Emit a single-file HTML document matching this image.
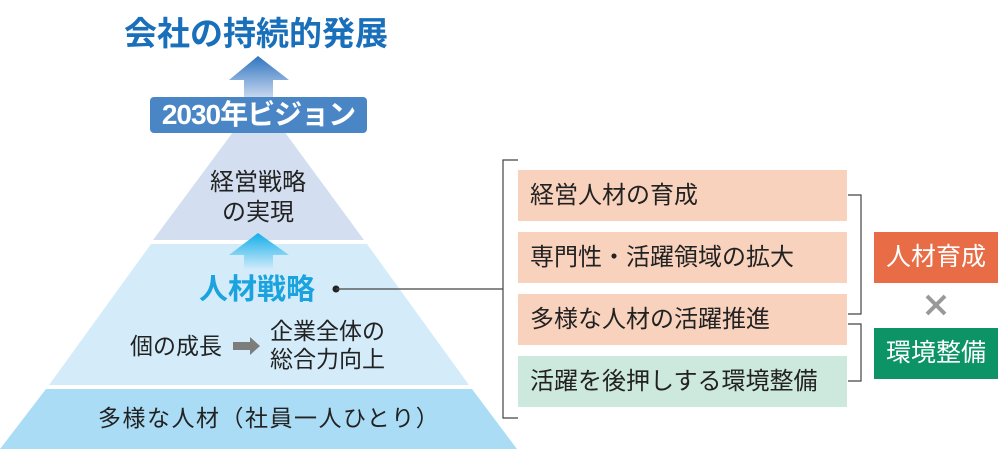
<!DOCTYPE html>
<html><head><meta charset="utf-8"><style>
body{margin:0;width:1000px;height:449px;overflow:hidden;background:#fff;font-family:"Liberation Sans","Noto Sans CJK JP",sans-serif;position:relative}
.t{position:absolute;white-space:nowrap}
.box{position:absolute;left:518px;width:329px;height:51px;line-height:51px;font-size:24px;color:#222;box-sizing:border-box;padding-left:12px}
</style></head><body>
<svg width="1000" height="449" style="position:absolute;left:0;top:0">
<defs>
<linearGradient id="g1" x1="0" y1="0" x2="0" y2="1"><stop offset="0" stop-color="#2f74c0"/><stop offset="1" stop-color="#c9d9ef"/></linearGradient>
<linearGradient id="g2" x1="0" y1="0" x2="0" y2="1"><stop offset="0" stop-color="#13aeea"/><stop offset="1" stop-color="#d4ecfa"/></linearGradient>
</defs>
<polygon points="259,97 364,240 153,240" fill="#d3dff0"/>
<polygon points="151,244 367,244 469,385 49,385" fill="#d4ecfa"/>
<polygon points="46,389 472,389 517,449 0,449" fill="#aadcf5"/>
<polygon points="258,56 289,80 273,80 273,98 244,98 244,80 229,80" fill="url(#g1)"/>
<rect x="150" y="97" width="217" height="36" rx="4" fill="#4a86c6"/>
<polygon points="258,233 289,255 273,255 273,270 244,270 244,255 229,255" fill="url(#g2)"/>
<polygon points="233,342 250,342 250,337 260,346 250,355 250,350 233,350" fill="#7d7d7d"/>
<circle cx="336" cy="289" r="3.5" fill="#222"/>
<path d="M336 289H503M518 160H503V418H518" stroke="#444" stroke-width="1.2" fill="none"/>
<path d="M848 195H861V314H848M848 324H861V381H848" stroke="#444" stroke-width="1.2" fill="none"/>
<path d="M927 296L945 314M945 296L927 314" stroke="#999" stroke-width="4"/>
</svg>
<div class="t" style="left:124px;top:14px;font-size:33px;line-height:40px;font-weight:bold;color:#1a6fba">会社の持続的発展</div>
<div class="t" style="left:150px;top:97px;width:217px;height:36px;line-height:36px;text-align:center;color:#fff;font-size:28px;font-weight:bold;letter-spacing:-1px">2030年ビジョン</div>
<div class="t" style="left:158px;top:168px;width:200px;text-align:center;font-size:24px;line-height:30px;color:#222">経営戦略<br>の実現</div>
<div class="t" style="left:199px;top:272px;font-size:29px;line-height:36px;font-weight:bold;color:#1ba3e0">人材戦略</div>
<div class="t" style="left:130px;top:332px;font-size:23px;line-height:28px;color:#222">個の成長</div>
<div class="t" style="left:270px;top:317px;font-size:23px;line-height:28px;color:#222">企業全体の<br>総合力向上</div>
<div class="t" style="left:98px;top:404px;font-size:23px;line-height:28px;color:#222;letter-spacing:1.5px">多様な人材（社員一人ひとり）</div>
<div class="box" style="top:170px;background:#f9d2bd">経営人材の育成</div>
<div class="box" style="top:232px;background:#f9d2bd">専門性・活躍領域の拡大</div>
<div class="box" style="top:294px;background:#f9d2bd">多様な人材の活躍推進</div>
<div class="box" style="top:356px;background:#cde8dc">活躍を後押しする環境整備</div>
<div class="t" style="left:874px;top:232px;width:124px;height:51px;line-height:51px;text-align:center;background:#e86c45;color:#fff;font-size:25px">人材育成</div>
<div class="t" style="left:874px;top:328px;width:124px;height:51px;line-height:51px;text-align:center;background:#0d9466;color:#fff;font-size:25px">環境整備</div>
</body></html>
